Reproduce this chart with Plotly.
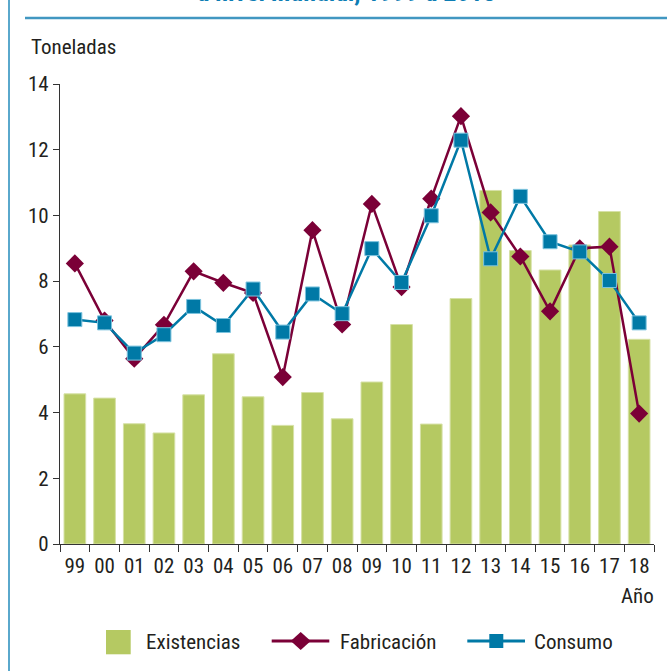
import plotly.graph_objects as go

years = ["99", "00", "01", "02", "03", "04", "05", "06", "07", "08",
         "09", "10", "11", "12", "13", "14", "15", "16", "17", "18"]
existencias = [4.57, 4.44, 3.66, 3.38, 4.54, 5.79, 4.48, 3.61, 4.61, 3.81,
               4.93, 6.68, 3.65, 7.47, 10.76, 8.93, 8.34, 9.10, 10.12, 6.23]
fabricacion = [8.54, 6.80, 5.64, 6.67, 8.30, 7.95, 7.64, 5.08, 9.55, 6.68,
               10.35, 7.82, 10.51, 13.02, 10.09, 8.75, 7.08, 9.00, 9.05, 3.97]
consumo = [6.83, 6.73, 5.81, 6.37, 7.23, 6.65, 7.76, 6.45, 7.61, 7.01,
           8.99, 7.96, 9.99, 12.29, 8.68, 10.58, 9.20, 8.89, 8.02, 6.73]

title_text = "a nivel mundial, 1999 a 2018"
y_title = "Toneladas"
x_title = "Año"
names = ["Existencias", "Fabricación", "Consumo"]

GREEN = "#b5c962"
MAROON = "#7b0037"
BLUE = "#0079a6"
FONT = "Roboto Condensed, Liberation Sans Narrow, sans-serif"
TXT = "#231f20"
FS = 21

W, H = 667, 671
L, R, T, B = 60, 654, 84, 544


def px(x):
    return (x - L) / (R - L)


def py(y):
    return (B - y) / (B - T)


fig = go.Figure()
fig.add_trace(go.Bar(x=years, y=existencias, name=names[0], width=0.73,
                     marker=dict(color=GREEN, line=dict(color="#d6e1a6", width=1)),
                     showlegend=False))
fig.add_trace(go.Scatter(x=years, y=fabricacion, name=names[1], mode="lines+markers",
                         line=dict(color=MAROON, width=2.5),
                         marker=dict(symbol="diamond", size=14, color=MAROON),
                         showlegend=False))
fig.add_trace(go.Scatter(x=years, y=consumo, name=names[2], mode="lines+markers",
                         line=dict(color=BLUE, width=2.5),
                         marker=dict(symbol="square", size=14, color=BLUE,
                                     line=dict(color="#7cc3de", width=1)),
                         showlegend=False))

shapes = []
# frame decorations
shapes.append(dict(type="line", xref="paper", yref="paper", x0=px(9), x1=px(9), y0=py(0), y1=py(H),
                   line=dict(color="#5aa8cc", width=2)))
shapes.append(dict(type="line", xref="paper", yref="paper", x0=px(25), x1=px(W), y0=py(18), y1=py(18),
                   line=dict(color="#4197c1", width=2.5)))
# legend
shapes.append(dict(type="rect", xref="paper", yref="paper", x0=px(106), x1=px(130.7),
                   y0=py(654.3), y1=py(630), fillcolor=GREEN, line=dict(width=0)))
shapes.append(dict(type="line", xref="paper", yref="paper", x0=px(271.7), x1=px(329.3),
                   y0=py(641), y1=py(641), line=dict(color=MAROON, width=3)))
cx, cy = 300.7, 641
shapes.append(dict(type="path", xref="paper", yref="paper",
                   path=f"M {px(cx-10)},{py(cy)} L {px(cx)},{py(cy-9)} L {px(cx+10)},{py(cy)} L {px(cx)},{py(cy+9)} Z",
                   fillcolor=MAROON, line=dict(width=0)))
shapes.append(dict(type="line", xref="paper", yref="paper", x0=px(467.3), x1=px(525),
                   y0=py(641), y1=py(641), line=dict(color=BLUE, width=3)))
shapes.append(dict(type="rect", xref="paper", yref="paper", x0=px(489.3), x1=px(503.3),
                   y0=py(648), y1=py(634), fillcolor=BLUE, line=dict(width=0)))

annotations = [
    dict(text=y_title, xref="paper", yref="paper", x=px(29), y=py(47), xanchor="left", yanchor="middle",
         showarrow=False, font=dict(family=FONT, size=FS, color=TXT)),
    dict(text=x_title, xref="paper", yref="paper", x=px(656), y=py(596), xanchor="right", yanchor="middle",
         showarrow=False, font=dict(family=FONT, size=FS, color=TXT)),
    dict(text=f"<b>{title_text}</b>", xref="paper", yref="paper", x=px(346), y=py(9), xanchor="center",
         yanchor="bottom", showarrow=False, font=dict(family=FONT, size=26, color="#0d7db4")),
    dict(text=names[0], xref="paper", yref="paper", x=px(144), y=py(642), xanchor="left", yanchor="middle",
         showarrow=False, font=dict(family=FONT, size=FS, color=TXT)),
    dict(text=names[1], xref="paper", yref="paper", x=px(338), y=py(642), xanchor="left", yanchor="middle",
         showarrow=False, font=dict(family=FONT, size=FS, color=TXT)),
    dict(text=names[2], xref="paper", yref="paper", x=px(532), y=py(642), xanchor="left", yanchor="middle",
         showarrow=False, font=dict(family=FONT, size=FS, color=TXT)),
]

fig.update_layout(
    width=W, height=H,
    margin=dict(l=L, r=W - R, t=T, b=H - B, pad=0),
    paper_bgcolor="white", plot_bgcolor="white",
    font=dict(family=FONT, size=FS, color=TXT),
    shapes=shapes,
    annotations=annotations,
    xaxis=dict(type="category", tickson="boundaries", ticks="outside", ticklen=7, tickcolor="#333",
               tickwidth=1.2, showline=True, linecolor="#333", linewidth=1.2, showgrid=False,
               tickangle=0, automargin=False, ticklabelstandoff=3,
               tickfont=dict(family=FONT, size=FS, color=TXT), range=[-0.5, 19.5]),
    yaxis=dict(range=[0, 14], dtick=2, ticks="outside", ticklen=6, tickcolor="#333", tickwidth=1.2,
               showline=True, linecolor="#333", linewidth=1.2, showgrid=False, zeroline=False,
               automargin=False,
               tickfont=dict(family=FONT, size=FS, color=TXT)),
)

fig.write_html("out.html", config={"displayModeBar": False},
               post_script="document.body.style.margin='0';document.body.style.padding='0';")
